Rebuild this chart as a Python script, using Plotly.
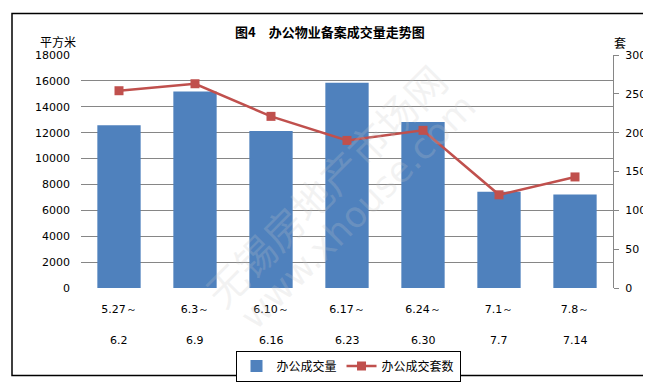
import plotly.graph_objects as go

categories_top = ["5.27～", "6.3～", "6.10～", "6.17～", "6.24～", "7.1～", "7.8～"]
categories_bottom = ["6.2", "6.9", "6.16", "6.23", "6.30", "7.7", "7.14"]
area_values = [12580, 15180, 12130, 15850, 12820, 7440, 7220]
unit_values = [254, 263, 221, 190, 203, 120, 143]
left_ticks = [0, 2000, 4000, 6000, 8000, 10000, 12000, 14000, 16000, 18000]
right_ticks = [0, 50, 100, 150, 200, 250, 300]

x_idx = list(range(len(categories_top)))
CJK = "Noto Sans CJK SC"
LAT = "DejaVu Sans"

fig = go.Figure()
fig.add_trace(go.Bar(
    x=x_idx, y=area_values, name="办公成交量",
    marker=dict(color="#4F81BD", line=dict(width=0)),
    width=0.57, yaxis="y",
))
fig.add_trace(go.Scatter(
    x=x_idx, y=unit_values, name="办公成交套数", mode="lines+markers",
    line=dict(color="#C0504D", width=2.5),
    marker=dict(symbol="square", size=9, color="#C0504D"),
    yaxis="y2",
))

L, R, T, B = 73, 46, 47, 96
W, H = 651, 385
pw, ph = W - L - R, H - T - B

def px(x):
    return (x - L) / pw

def py(y):
    return (H - B - y) / ph

annotations = []
for i, lab in enumerate(categories_bottom):
    annotations.append(dict(x=i, y=py(344), xref="x", yref="paper", text=lab,
                            showarrow=False, yanchor="middle",
                            font=dict(family=LAT, size=11, color="#000")))
annotations += [
    dict(x=px(322), y=py(23), xref="paper", yref="paper", text="<b>图4　办公物业备案成交量走势图</b>",
         showarrow=False, xanchor="center", yanchor="middle",
         font=dict(family=CJK, size=13, color="#000")),
    dict(x=px(50), y=py(33), xref="paper", yref="paper", text="平方米",
         showarrow=False, xanchor="center", yanchor="middle",
         font=dict(family=CJK, size=12, color="#000")),
    dict(x=px(612), y=py(34), xref="paper", yref="paper", text="套",
         showarrow=False, xanchor="center", yanchor="middle",
         font=dict(family=CJK, size=12, color="#000")),
    dict(x=px(317), y=py(182), xref="paper", yref="paper", text="无锡房地产市场网",
         showarrow=False, textangle=-45, xanchor="center", yanchor="middle",
         font=dict(family=CJK, size=40, color="rgba(200,200,200,0.22)")),
    dict(x=px(350), y=py(210), xref="paper", yref="paper", text="www.xhouse.com",
         showarrow=False, textangle=-45, xanchor="center", yanchor="middle",
         font=dict(family=LAT, size=36, color="rgba(200,200,200,0.22)")),
]

fig.update_layout(
    width=W, height=H,
    margin=dict(l=L, r=R, t=T, b=B),
    paper_bgcolor="white", plot_bgcolor="white",
    showlegend=True,
    legend=dict(orientation="h", x=px(340), y=py(354), xanchor="center", yanchor="top",
                bordercolor="#000", borderwidth=1, bgcolor="white",
                font=dict(family=CJK, size=12, color="#000"),
                itemwidth=30, tracegroupgap=0),
    xaxis=dict(range=[-0.5, 6.5], tickmode="array", tickvals=x_idx, ticktext=categories_top,
               showgrid=False, zeroline=False, showline=False, ticks="",
               ticklabelstandoff=13,
               tickfont=dict(family=LAT, size=11, color="#000")),
    yaxis=dict(range=[0, 18000], tickmode="array", tickvals=left_ticks,
               ticktext=[str(v) for v in left_ticks],
               showgrid=True, gridcolor="#868686", gridwidth=1, zeroline=False,
               showline=False, ticks="", ticklabelstandoff=10,
               tickfont=dict(family=LAT, size=11, color="#000")),
    yaxis2=dict(range=[0, 300], tickmode="array", tickvals=right_ticks,
                ticktext=[str(v) for v in right_ticks], overlaying="y",
                side="right", showgrid=False, zeroline=False, showline=True,
                linecolor="#868686", linewidth=1, ticks="outside", ticklen=5,
                tickcolor="#868686", ticklabelstandoff=4,
                tickfont=dict(family=LAT, size=11, color="#000")),
    annotations=annotations,
    shapes=[dict(type="rect", xref="paper", yref="paper",
                 x0=px(4), x1=px(647), y0=py(380), y1=py(4),
                 line=dict(color="#000", width=1.5), layer="above")],
    bargap=0.43,
)

fig.write_html("out.html")
